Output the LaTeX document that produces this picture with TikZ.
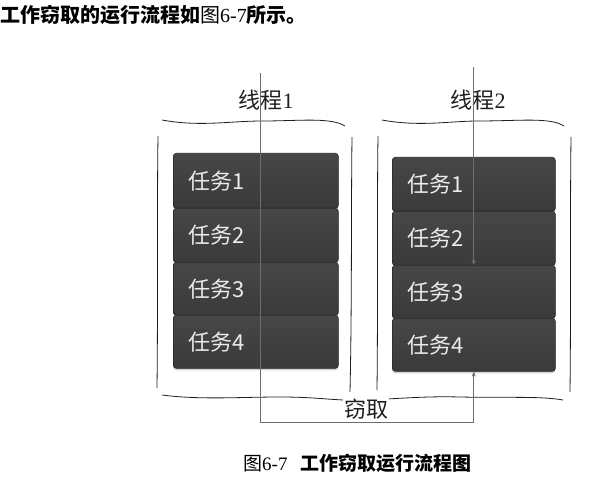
\documentclass[tikz,border=0pt]{standalone}
\usepackage{fontspec}
\setmainfont{Liberation Serif}
\newfontfamily\cjk{Noto Sans CJK SC}
\usetikzlibrary{arrows.meta,shadows}
\definecolor{taskfill}{HTML}{3A3A3A}
\definecolor{tasktop}{HTML}{474747}
\definecolor{taskedge}{HTML}{262626}
\definecolor{flow}{HTML}{6E6E6E}
\definecolor{ink}{HTML}{1E1E1E}
\tikzset{
  taskbox/.style={draw=taskedge, line width=0.6pt, top color=tasktop, bottom color=taskfill,
    rounded corners=3pt, anchor=north west, text=white!92!black,
    text width=#1, inner xsep=15pt, inner ysep=0pt, align=left,
    font=\cjk\fontsize{22}{22}\selectfont,
    drop shadow={opacity=0.35, shadow xshift=0pt, shadow yshift=-2pt}},
  flowline/.style={draw=flow, line width=0.8pt},
  flowarrow/.style={flowline, -{Stealth[length=5pt,width=4pt]}},
  hand/.style={draw=ink, line width=0.8pt},
  label/.style={font=\fontsize{22}{22}\selectfont, text=ink}
}
\begin{document}
\begin{tikzpicture}[x=1pt,y=-1pt]
\useasboundingbox (0,0) rectangle (604,478);
% heading text
\node[anchor=west, inner sep=0pt, font=\fontsize{20}{20}\selectfont] (head) at (0,15)
  {{\cjk\bfseries 工作窃取的运行流程如}{\cjk 图}6-7{\cjk\bfseries 所示。}};
% thread labels
\node[label] (t1) at (266,100) {{\cjk 线程}1};
\node[label] (t2) at (478,100) {{\cjk 线程}2};
% left thread tasks
\node[taskbox=135pt, minimum height=55pt] (L1) at (173,153) {任务1};
\node[taskbox=135pt, minimum height=54pt] (L2) at (173,208) {任务2};
\node[taskbox=135pt, minimum height=53pt] (L3) at (173,262) {任务3};
\node[taskbox=135pt, minimum height=53pt] (L4) at (173,315) {任务4};
% right thread tasks
\node[taskbox=133pt, minimum height=54pt] (R1) at (392,157) {任务1};
\node[taskbox=133pt, minimum height=54pt] (R2) at (392,211) {任务2};
\node[taskbox=133pt, minimum height=53pt] (R3) at (392,265) {任务3};
\node[taskbox=133pt, minimum height=53pt] (R4) at (392,318) {任务4};
% hand drawn lines, left thread
\draw[hand] (162,120) .. controls (200,127) and (230,121) .. (262,121)
  .. controls (300,121) and (330,117) .. (345,126);
\draw[hand] (158,136) .. controls (157,200) and (158,300) .. (157,388);
\draw[hand] (352,137) .. controls (351,220) and (352,300) .. (350,392);
% right thread
\draw[hand] (382,120) .. controls (420,127) and (450,121) .. (478,121)
  .. controls (520,121) and (550,117) .. (564,126);
\draw[hand] (378,136) .. controls (377,200) and (378,300) .. (377,390);
\draw[hand] (571,137) .. controls (570,220) and (571,300) .. (570,392);
% bottom wave
\draw[hand] (162,395) .. controls (200,400) and (240,397) .. (280,397)
  .. controls (320,397) and (335,401) .. (360,400)
  .. controls (400,399) and (420,396) .. (460,397)
  .. controls (510,398) and (540,396) .. (563,400);
% steal label
\node[label, fill=white, inner sep=1pt] (steal) at (366,409) {\cjk 窃取};
% flows
\coordinate (L0) at (260,73);
\coordinate (R0) at (R1.north |- 0,67);
\coordinate (B) at (R4.south |- 0,422);
\draw[flowarrow] (L0) |- (B) -- (R4.south);
\draw[flowarrow] (R0) -- (R3.north);
% caption
\node[anchor=west, inner sep=0pt, font=\fontsize{19}{19}\selectfont] (cap) at (243,463)
  {{\cjk 图}6-7\hspace{0.7em}{\cjk\bfseries 工作窃取运行流程图}};
\end{tikzpicture}
\end{document}
